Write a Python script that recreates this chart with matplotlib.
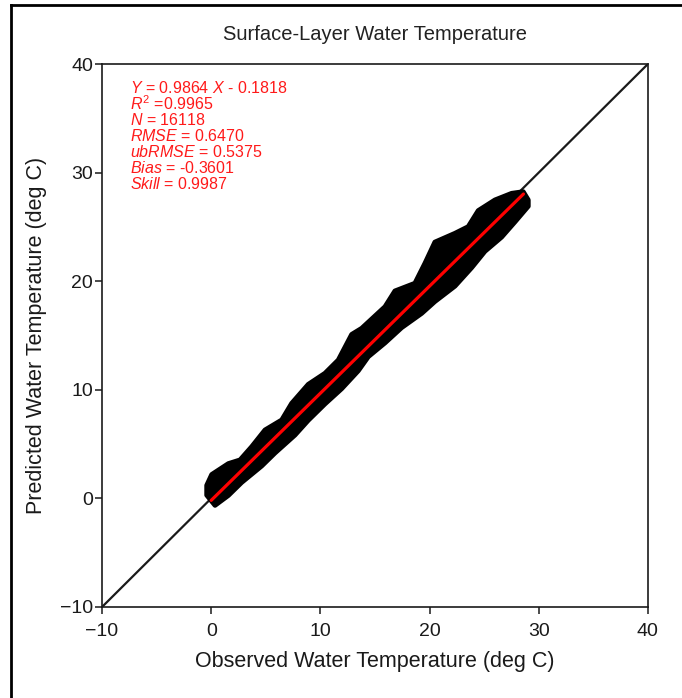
import matplotlib
matplotlib.use("Agg")
import matplotlib.pyplot as plt
from matplotlib.lines import Line2D

plt.rcParams.update({
    'font.family': ['Liberation Sans', 'DejaVu Sans'],
    'font.size': 12,
    'mathtext.fontset': 'custom',
    'mathtext.rm': 'Liberation Sans',
    'mathtext.it': 'Liberation Sans:italic',
})

# outline of the scatter cloud (observed, predicted)
upper_obs = [0.35, -0.41, -0.41, 0.05, 1.57, 2.64, 3.71, 4.93, 6.46, 7.37, 8.89,
             10.42, 11.64, 12.87, 13.78, 15.92, 16.83, 18.66, 19.58, 20.49,
             22.33, 23.54, 24.46, 25.99, 27.52, 28.58, 29.04]
upper_pred = [-0.64, 0.3, 1.2, 2.2, 3.2, 3.54, 4.76, 6.30, 7.22, 8.75, 10.50,
              11.52, 12.74, 15.10, 15.66, 17.65, 19.10, 19.81, 21.65, 23.60,
              24.41, 25.02, 26.50, 27.48, 28.09, 28.24, 27.48]
lower_obs = [29.04, 27.82, 26.60, 25.07, 23.86, 22.33, 20.49, 19.28, 17.44,
             15.92, 14.39, 13.47, 11.95, 10.42, 8.89, 7.67, 5.84, 4.62, 2.79,
             1.57]
lower_pred = [26.90, 25.46, 24.06, 22.75, 21.25, 19.55, 18.13, 17.04, 15.72,
              14.32, 13.05, 11.75, 10.10, 8.70, 7.19, 5.83, 4.18, 2.98, 1.47,
              0.27]

slope = 0.9864
intercept = -0.1818
fit_range = [0.0, 28.6]

stats_lines = [
    r'$Y$ = 0.9864 $X$ - 0.1818',
    r'$R^2$ =0.9965',
    r'$N$ = 16118',
    r'$RMSE$ = 0.6470',
    r'$ubRMSE$ = 0.5375',
    r'$Bias$ = -0.3601',
    r'$Skill$ = 0.9987',
]
ticks = [-10, 0, 10, 20, 30, 40]

fig = plt.figure(figsize=(6.82, 6.98), dpi=100)
ax = fig.add_axes([0.1496, 0.1304, 0.8004, 0.7779])

# 1:1 line
ax.plot([-10, 40], [-10, 40], color='#1a1a1a', linewidth=1.6, zorder=1)

# scatter cloud
ax.fill(upper_obs + lower_obs, upper_pred + lower_pred, facecolor='black',
        edgecolor='black', linewidth=3.5, joinstyle='round', zorder=2)

# regression line
fx = fit_range
fy = [slope * v + intercept for v in fx]
ax.plot(fx, fy, color='#ff0000', linewidth=2.3, solid_capstyle='round', zorder=3)

for i, s in enumerate(stats_lines):
    ax.text(-7.45, 37.8 - i * 1.47, s, color='#ff1a1a', fontsize=11.5,
            va='center', ha='left')

ax.set_xlim(-10, 40)
ax.set_ylim(-10, 40)
ax.set_xticks(ticks)
ax.set_yticks(ticks)
ax.tick_params(direction='out', length=5, width=1.1, colors='#1a1a1a',
               labelsize=14, pad=1.5)
ax.tick_params(axis='x', pad=6.5)
for sp in ax.spines.values():
    sp.set_linewidth(1.2)
    sp.set_color('#1a1a1a')

ax.set_xlabel('Observed Water Temperature (deg C)', fontsize=15.5, color='#1a1a1a', labelpad=8)
ax.set_ylabel('Predicted Water Temperature (deg C)', fontsize=15.5, color='#1a1a1a', labelpad=9.5)
ax.set_title('Surface-Layer Water Temperature', fontsize=14.5, color='#222222', pad=17)

# frame around the figure (left and top edges visible)
fig.add_artist(Line2D([11 / 682, 11 / 682], [0, 1 - 5 / 698], transform=fig.transFigure,
                      color='black', linewidth=2))
fig.add_artist(Line2D([11 / 682, 1], [1 - 5 / 698, 1 - 5 / 698], transform=fig.transFigure,
                      color='black', linewidth=2))

fig.savefig('out.png', dpi=100)
